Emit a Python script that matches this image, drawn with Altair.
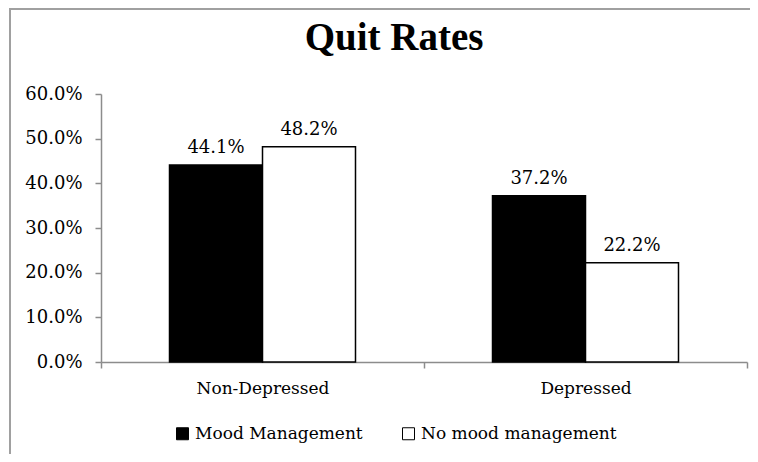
import altair as alt
import pandas as pd

categories = ["Non-Depressed", "Depressed"]
series = ["Mood Management", "No mood management"]
mood_management = [0.441, 0.372]
no_mood_management = [0.482, 0.222]
y_ticks = [0.0, 0.1, 0.2, 0.3, 0.4, 0.5, 0.6]
title_text = "Quit Rates"

rows = []
for i, c in enumerate(categories):
    rows.append({"group": c, "series": series[0], "rate": mood_management[i]})
    rows.append({"group": c, "series": series[1], "rate": no_mood_management[i]})
df = pd.DataFrame(rows)

SERIF = "DejaVu Serif"
AXIS_GRAY = "#8c8c8c"

x_enc = alt.X(
    "group:N",
    sort=categories,
    title=None,
    scale=alt.Scale(paddingInner=0, paddingOuter=0),
    axis=alt.Axis(
        labelAngle=0,
        labelFont=SERIF,
        labelFontSize=17,
        labelColor="#000000",
        labelPadding=12,
        domainColor=AXIS_GRAY,
        tickColor=AXIS_GRAY,
        tickSize=6,
        tickBand="extent",
        domainWidth=1.5,
        tickWidth=1.5,
    ),
)
y_enc = alt.Y(
    "rate:Q",
    title=None,
    scale=alt.Scale(domain=[0, 0.6], nice=False),
    axis=alt.Axis(
        values=y_ticks,
        format=".1%",
        grid=False,
        labelFont=SERIF,
        labelFontSize=18,
        labelColor="#000000",
        labelPadding=13,
        domainColor=AXIS_GRAY,
        tickColor=AXIS_GRAY,
        tickSize=6,
        domainWidth=1.5,
        tickWidth=1.5,
    ),
)
xoff_scale = alt.Scale(paddingInner=0, paddingOuter=0.7366)

bars = alt.Chart(df).mark_bar(stroke="black", strokeWidth=1.5).encode(
    x=x_enc,
    xOffset=alt.XOffset("series:N", sort=series, scale=xoff_scale),
    y=y_enc,
    fill=alt.Fill(
        "series:N",
        sort=series,
        scale=alt.Scale(domain=series, range=["#000000", "#ffffff"]),
        legend=alt.Legend(
            title=None,
            orient="none",
            direction="horizontal",
            legendX=73,
            legendY=331,
            symbolType="square",
            symbolSize=144,
            symbolStrokeColor="black",
            symbolStrokeWidth=1,
            labelFont=SERIF,
            labelFontSize=17,
            labelColor="#000000",
            labelOffset=4,
            labelLimit=0,
            columnPadding=37,
            padding=0,
        ),
    ),
)

labels = alt.Chart(df).mark_text(
    font=SERIF, fontSize=18, color="#000000", baseline="alphabetic", dy=-12
).encode(
    x=alt.X("group:N", sort=categories),
    xOffset=alt.XOffset("series:N", sort=series, scale=xoff_scale),
    y="rate:Q",
    text=alt.Text("rate:Q", format=".1%"),
)

title = alt.Chart(pd.DataFrame({"t": [title_text]})).mark_text(
    font="Liberation Serif",
    fontSize=39,
    fontWeight="bold",
    color="#000000",
    align="center",
    baseline="alphabetic",
).encode(x=alt.value(293), y=alt.value(-44), text="t:N")

one = pd.DataFrame({"t": [0]})
frame_left = alt.Chart(one).mark_rule(color="#a0a0a0", strokeWidth=2).encode(
    x=alt.value(-91), y=alt.value(-86), y2=alt.value(366)
)
frame_top = alt.Chart(one).mark_rule(color="#a0a0a0", strokeWidth=2).encode(
    x=alt.value(-92), x2=alt.value(649), y=alt.value(-85)
)

chart = (
    alt.layer(frame_left, frame_top, title, bars, labels)
    .properties(
        width=646,
        height=268,
        autosize=alt.AutoSizeParams(type="none"),
        padding={"left": 93, "top": 86, "right": 3, "bottom": 92},
    )
    .configure_view(strokeWidth=0, stroke="transparent")
)

chart.save("out.html", embed_options={"renderer": "svg", "actions": False})
